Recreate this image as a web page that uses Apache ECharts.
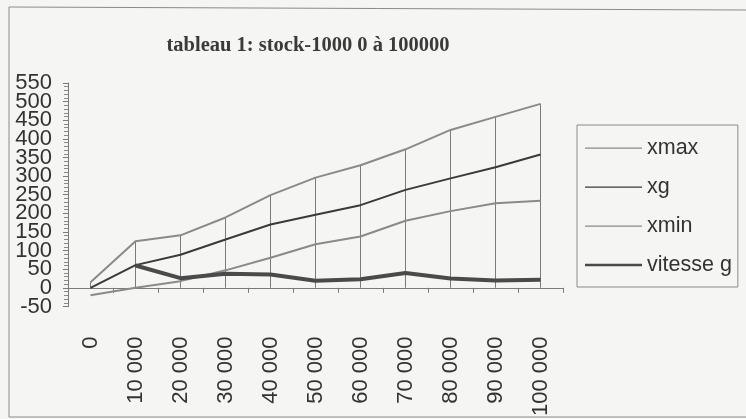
<!DOCTYPE html>
<html>
<head>
<meta charset="utf-8">
<script src="https://cdn.jsdelivr.net/npm/echarts@6/dist/echarts.min.js"></script>
<style>html,body{margin:0;padding:0;background:#f5f5f3;}#c{width:746px;height:419px;}</style>
</head>
<body>
<div id="c"></div>
<script>
var categories = ["0", "10 000", "20 000", "30 000", "40 000", "50 000", "60 000", "70 000", "80 000", "90 000", "100 000"];
var xmax = [15, 125, 141, 189, 249, 296, 329, 372, 424, 459, 494];
var xg = [0, 61, 89, 130, 170, 196, 222, 263, 294, 324, 358];
var xmin = [-20, 0, 18, 47, 81, 117, 138, 180, 206, 227, 234];
var vitesse = [null, 60, 26, 38, 36, 19, 23, 40, 25, 20, 22];
var yTicks = {min: -50, max: 550, interval: 50};

var thinIcon = 'path://M0,0L1,0L1,0Z M0,3L100,3L100,5.2L0,5.2Z M0,8L1,8L1,8Z';
var thickIcon = 'path://M0,0L1,0L1,0Z M0,2L100,2L100,6L0,6Z M0,8L1,8L1,8Z';

var chart = echarts.init(document.getElementById('c'), null, {renderer: 'canvas'});
var font = 'Liberation Sans, Arial, sans-serif';
var yLabelStyle = {margin: 16, fontFamily: font, fontSize: 22, color: '#333', hideOverlap: false};
chart.setOption({
  backgroundColor: '#f5f5f3',
  animation: false,
  title: {
    text: 'tableau 1: stock-1000 0 à 100000',
    left: 303, top: 30, textAlign: 'center',
    textStyle: {fontFamily: 'Liberation Serif, Times New Roman, serif', fontWeight: 'bold', fontSize: 20.5, color: '#3a3a3a'}
  },
  graphic: [
    {type: 'line', shape: {x1: 9, y1: 7, x2: 746, y2: 10}, style: {stroke: '#8a8a8a', lineWidth: 1}},
    {type: 'line', shape: {x1: 9, y1: 7, x2: 9, y2: 417}, style: {stroke: '#8a8a8a', lineWidth: 1}},
    {type: 'line', shape: {x1: 9, y1: 417, x2: 746, y2: 417}, style: {stroke: '#8a8a8a', lineWidth: 1}}
  ],
  legend: {
    orient: 'vertical', left: 577, top: 125,
    padding: [12, 6, 11, 8],
    borderColor: '#8a8a8a', borderWidth: 1,
    itemWidth: 57, itemHeight: 8, itemGap: 17,
    data: [
      {name: 'xmax', icon: thinIcon},
      {name: 'xg', icon: thinIcon},
      {name: 'xmin', icon: thinIcon},
      {name: 'vitesse g', icon: thickIcon}
    ],
    textStyle: {fontFamily: font, fontSize: 21.5, color: '#333', lineHeight: 22}
  },
  grid: {left: 68, right: 183, top: 83, bottom: 103, containLabel: false},
  xAxis: {
    type: 'category', data: categories, boundaryGap: true,
    axisLine: {onZero: true, lineStyle: {color: '#7a7a7a', width: 1}},
    axisTick: {show: true, length: 5, lineStyle: {color: '#7a7a7a'}},
    axisLabel: {rotate: 90, margin: 30, interval: 0, fontFamily: font, fontSize: 22, color: '#333'},
    splitLine: {show: false}
  },
  yAxis: [
    {
      type: 'value', min: yTicks.min, max: yTicks.max, interval: yTicks.interval,
      axisLine: {show: true, onZero: false, lineStyle: {color: '#7a7a7a', width: 1}},
      axisTick: {show: true, length: 5, lineStyle: {color: '#7a7a7a'}},
      minorTick: {show: true, splitNumber: 5, length: 4, lineStyle: {color: '#8a8a8a'}},
      axisLabel: Object.assign({showMinLabel: false, showMaxLabel: false}, yLabelStyle),
      splitLine: {show: false}
    },
    {
      type: 'value', position: 'left', min: yTicks.min, max: yTicks.max, interval: yTicks.interval,
      axisLine: {show: false}, axisTick: {show: false}, splitLine: {show: false},
      axisLabel: Object.assign({
        showMinLabel: true, showMaxLabel: true,
        formatter: function (v) { return (v === yTicks.min || v === yTicks.max) ? String(v) : ''; }
      }, yLabelStyle)
    }
  ],
  series: [
    {name: 'drop', type: 'bar', data: xmax, barWidth: 1, itemStyle: {color: '#7a7a7a'}, silent: true, z: 1, legendHoverLink: false},
    {name: 'xmax', type: 'line', data: xmax, symbol: 'none', lineStyle: {color: '#8a8a8a', width: 2}, itemStyle: {color: '#8a8a8a'}, z: 3},
    {name: 'xg', type: 'line', data: xg, symbol: 'none', lineStyle: {color: '#3a3a3a', width: 2}, itemStyle: {color: '#3a3a3a'}, z: 3},
    {name: 'xmin', type: 'line', data: xmin, symbol: 'none', lineStyle: {color: '#8a8a8a', width: 2}, itemStyle: {color: '#8a8a8a'}, z: 3},
    {name: 'vitesse g', type: 'line', data: vitesse, symbol: 'none', lineStyle: {color: '#4a4a4a', width: 4}, itemStyle: {color: '#4a4a4a'}, z: 4}
  ]
});
</script>
</body>
</html>
